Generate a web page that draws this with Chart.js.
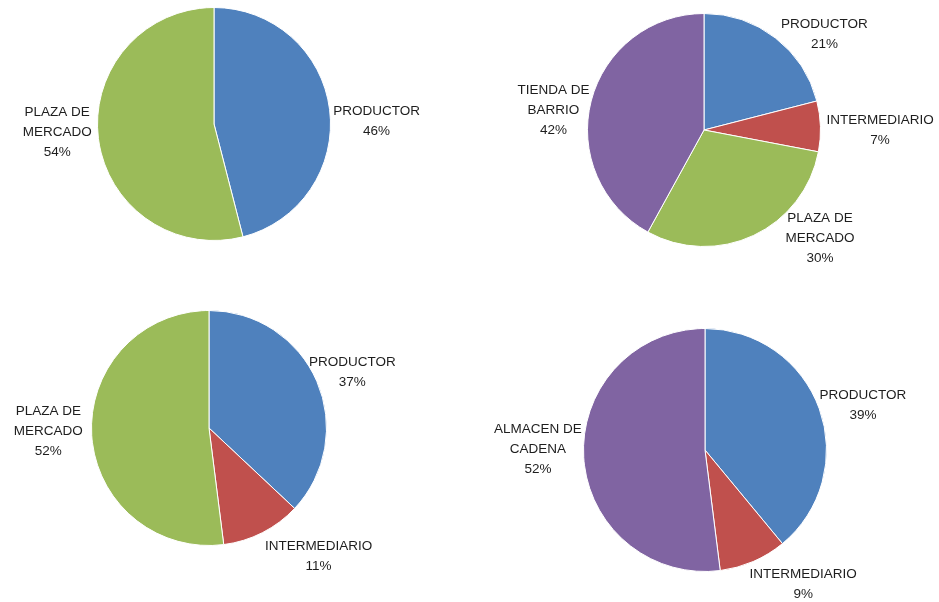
<!DOCTYPE html>
<html>
<head>
<meta charset="utf-8">
<title>Canales de comercialización</title>
<script src="https://cdn.jsdelivr.net/npm/chart.js@4.4.1/dist/chart.umd.min.js"></script>
<style>
  html, body { margin: 0; padding: 0; background: #fff; }
  #wrap { position: relative; width: 939px; height: 602px; }
  #wrap canvas { position: absolute; left: 0; top: 0; }
</style>
</head>
<body>
<div id="wrap">
  <canvas id="pie1" width="939" height="602"></canvas>
  <canvas id="pie2" width="939" height="602"></canvas>
  <canvas id="pie3" width="939" height="602"></canvas>
  <canvas id="pie4" width="939" height="602"></canvas>
</div>
<script>
// datos de cada torta (porcentajes)
const cats1 = ['PRODUCTOR', 'PLAZA DE MERCADO'];
const vals1 = [46, 54];

const cats2 = ['PRODUCTOR', 'INTERMEDIARIO', 'PLAZA DE MERCADO', 'TIENDA DE BARRIO'];
const vals2 = [21, 7, 30, 42];

const cats3 = ['PRODUCTOR', 'INTERMEDIARIO', 'PLAZA DE MERCADO'];
const vals3 = [37, 11, 52];

const cats4 = ['PRODUCTOR', 'INTERMEDIARIO', 'ALMACEN DE CADENA'];
const vals4 = [39, 9, 52];

// colores por canal
const colores = {
  'PRODUCTOR': '#4F81BD',
  'INTERMEDIARIO': '#C0504D',
  'PLAZA DE MERCADO': '#9BBB59',
  'TIENDA DE BARRIO': '#8064A2',
  'ALMACEN DE CADENA': '#8064A2'
};

const W = 939, H = 602;

// centro y radio de cada torta, y ajuste fino de las etiquetas
const layouts = [
  { id: 'pie1', cx: 214, cy: 124, r: 117, nudge: [[0, 15], [-3, -11]] },
  { id: 'pie2', cx: 704, cy: 130, r: 117, nudge: [[20, 15], [2, 5], [50, -28], [1, 18]] },
  { id: 'pie3', cx: 209, cy: 428, r: 118, nudge: [[-8, 0], [30, 2], [-5, -6]] },
  { id: 'pie4', cx: 705, cy: 450, r: 122, nudge: [[-1, 5], [27, 1], [2, -10]] }
];

// "PLAZA DE MERCADO" -> ["PLAZA DE", "MERCADO"]
function partirNombre(nombre) {
  return nombre.replace(' DE ', ' DE\n').split('\n');
}

// etiquetas fuera de cada porción: nombre + porcentaje
const etiquetasPorcion = {
  id: 'etiquetasPorcion',
  afterDatasetsDraw(chart, args, opts) {
    const ctx = chart.ctx;
    const meta = chart.getDatasetMeta(0);
    const data = chart.data.datasets[0].data;
    ctx.save();
    ctx.font = opts.font;
    ctx.fillStyle = opts.color;
    ctx.textAlign = 'center';
    ctx.textBaseline = 'middle';
    meta.data.forEach((arc, i) => {
      const p = arc.getProps(['x', 'y', 'startAngle', 'endAngle', 'outerRadius'], true);
      const mid = (p.startAngle + p.endAngle) / 2;
      const dx = Math.cos(mid), dy = Math.sin(mid);
      const lineas = [...partirNombre(chart.data.labels[i]), data[i] + '%'];
      const w = Math.max(...lineas.map(l => ctx.measureText(l).width));
      const h = lineas.length * opts.lineHeight;
      const R = p.outerRadius + opts.gap;
      const n = (opts.nudge && opts.nudge[i]) || [0, 0];
      const x = p.x + dx * R + dx * w / 2 + n[0];
      const y = p.y + dy * R + dy * h / 2 + n[1];
      lineas.forEach((l, k) => {
        ctx.fillText(l, x, y - h / 2 + opts.lineHeight * (k + 0.5));
      });
    });
    ctx.restore();
  }
};

const series = [[cats1, vals1], [cats2, vals2], [cats3, vals3], [cats4, vals4]];

series.forEach(([cats, vals], idx) => {
  const L = layouts[idx];
  new Chart(document.getElementById(L.id), {
    type: 'pie',
    data: {
      labels: cats,
      datasets: [{
        data: vals,
        backgroundColor: cats.map(c => colores[c]),
        borderColor: '#ffffff',
        borderWidth: 1
      }]
    },
    options: {
      responsive: false,
      animation: false,
      layout: {
        padding: {
          left: L.cx - L.r,
          top: L.cy - L.r,
          right: W - L.cx - L.r,
          bottom: H - L.cy - L.r
        }
      },
      plugins: {
        legend: { display: false },
        tooltip: { enabled: false },
        etiquetasPorcion: {
          font: '13.5px "Liberation Sans", Arial, sans-serif',
          color: '#1e1e1e',
          lineHeight: 20,
          gap: 4,
          nudge: L.nudge
        }
      }
    },
    plugins: [etiquetasPorcion]
  });
});
</script>
</body>
</html>
